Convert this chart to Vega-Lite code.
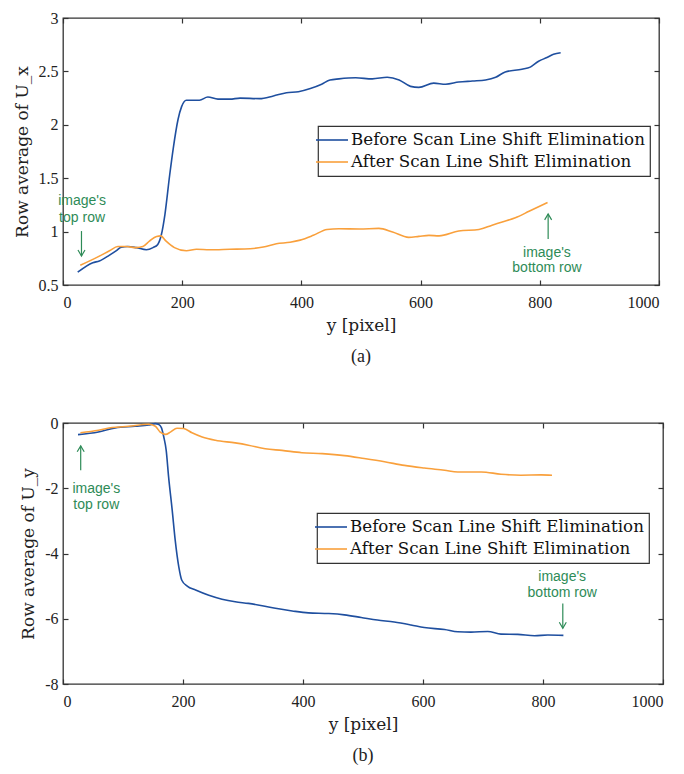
{
  "$schema": "https://vega.github.io/schema/vega-lite/v6.json",
  "background": "white",
  "padding": {"left": 12, "top": 9, "right": 5, "bottom": 5},
  "spacing": 47,
  "align": "none",
  "resolve": {"scale": {"color": "independent"}, "legend": {"color": "independent"}},
  "config": {
    "font": "Liberation Serif",
    "view": {"stroke": "#333", "strokeWidth": 1.3},
    "axis": {"grid": false, "domain": false, "tickSize": -5, "tickColor": "#333", "tickWidth": 1.2, "labelFont": "Liberation Serif", "labelFontSize": 16, "labelColor": "#222", "titleFont": "DejaVu Serif", "titleFontSize": 17, "titleFontWeight": "normal", "titleColor": "#222"},
    "axisX": {"labelPadding": 14, "titlePadding": 7},
    "axisY": {"labelPadding": 10, "titlePadding": 7},
    "legend": {"strokeColor": "#333", "fillColor": "white", "strokeWidth": 1.2, "padding": 5, "symbolType": "M-2,0H2", "symbolSize": 256, "symbolStrokeWidth": 1.6, "labelFont": "DejaVu Serif", "labelFontSize": 16.7, "labelColor": "#111", "labelLimit": 500, "labelOffset": 10, "rowPadding": 4},
    "title": {"font": "Liberation Serif", "fontSize": 18, "fontWeight": "normal", "color": "#222"}
  },
  "datasets": {
    "ux": [
      {"series": "Before Scan Line Shift Elimination", "pos": 24.7, "avg": 0.62},
      {"series": "Before Scan Line Shift Elimination", "pos": 50, "avg": 0.709},
      {"series": "Before Scan Line Shift Elimination", "pos": 61, "avg": 0.725},
      {"series": "Before Scan Line Shift Elimination", "pos": 78, "avg": 0.78},
      {"series": "Before Scan Line Shift Elimination", "pos": 89, "avg": 0.82},
      {"series": "Before Scan Line Shift Elimination", "pos": 98, "avg": 0.855},
      {"series": "Before Scan Line Shift Elimination", "pos": 109, "avg": 0.86},
      {"series": "Before Scan Line Shift Elimination", "pos": 123, "avg": 0.85},
      {"series": "Before Scan Line Shift Elimination", "pos": 140, "avg": 0.83},
      {"series": "Before Scan Line Shift Elimination", "pos": 151, "avg": 0.85},
      {"series": "Before Scan Line Shift Elimination", "pos": 159, "avg": 0.88},
      {"series": "Before Scan Line Shift Elimination", "pos": 165, "avg": 0.97},
      {"series": "Before Scan Line Shift Elimination", "pos": 171, "avg": 1.16},
      {"series": "Before Scan Line Shift Elimination", "pos": 179, "avg": 1.53},
      {"series": "Before Scan Line Shift Elimination", "pos": 185, "avg": 1.78},
      {"series": "Before Scan Line Shift Elimination", "pos": 193, "avg": 2.05},
      {"series": "Before Scan Line Shift Elimination", "pos": 199, "avg": 2.17},
      {"series": "Before Scan Line Shift Elimination", "pos": 207, "avg": 2.23},
      {"series": "Before Scan Line Shift Elimination", "pos": 218, "avg": 2.23},
      {"series": "Before Scan Line Shift Elimination", "pos": 229, "avg": 2.23},
      {"series": "Before Scan Line Shift Elimination", "pos": 243, "avg": 2.26},
      {"series": "Before Scan Line Shift Elimination", "pos": 260, "avg": 2.24},
      {"series": "Before Scan Line Shift Elimination", "pos": 280, "avg": 2.24},
      {"series": "Before Scan Line Shift Elimination", "pos": 297, "avg": 2.25},
      {"series": "Before Scan Line Shift Elimination", "pos": 330, "avg": 2.245},
      {"series": "Before Scan Line Shift Elimination", "pos": 353, "avg": 2.27},
      {"series": "Before Scan Line Shift Elimination", "pos": 375, "avg": 2.3},
      {"series": "Before Scan Line Shift Elimination", "pos": 395, "avg": 2.31},
      {"series": "Before Scan Line Shift Elimination", "pos": 415, "avg": 2.34},
      {"series": "Before Scan Line Shift Elimination", "pos": 434, "avg": 2.38},
      {"series": "Before Scan Line Shift Elimination", "pos": 448, "avg": 2.42},
      {"series": "Before Scan Line Shift Elimination", "pos": 463, "avg": 2.43},
      {"series": "Before Scan Line Shift Elimination", "pos": 491, "avg": 2.44},
      {"series": "Before Scan Line Shift Elimination", "pos": 519, "avg": 2.43},
      {"series": "Before Scan Line Shift Elimination", "pos": 544, "avg": 2.445},
      {"series": "Before Scan Line Shift Elimination", "pos": 564, "avg": 2.42},
      {"series": "Before Scan Line Shift Elimination", "pos": 583, "avg": 2.36},
      {"series": "Before Scan Line Shift Elimination", "pos": 597, "avg": 2.35},
      {"series": "Before Scan Line Shift Elimination", "pos": 622, "avg": 2.39},
      {"series": "Before Scan Line Shift Elimination", "pos": 642, "avg": 2.38},
      {"series": "Before Scan Line Shift Elimination", "pos": 664, "avg": 2.4},
      {"series": "Before Scan Line Shift Elimination", "pos": 687, "avg": 2.41},
      {"series": "Before Scan Line Shift Elimination", "pos": 709, "avg": 2.42},
      {"series": "Before Scan Line Shift Elimination", "pos": 726, "avg": 2.445},
      {"series": "Before Scan Line Shift Elimination", "pos": 742, "avg": 2.495},
      {"series": "Before Scan Line Shift Elimination", "pos": 770, "avg": 2.52},
      {"series": "Before Scan Line Shift Elimination", "pos": 784, "avg": 2.54},
      {"series": "Before Scan Line Shift Elimination", "pos": 798, "avg": 2.595},
      {"series": "Before Scan Line Shift Elimination", "pos": 812, "avg": 2.63},
      {"series": "Before Scan Line Shift Elimination", "pos": 823, "avg": 2.66},
      {"series": "Before Scan Line Shift Elimination", "pos": 835, "avg": 2.675},
      {"series": "After Scan Line Shift Elimination", "pos": 29, "avg": 0.684},
      {"series": "After Scan Line Shift Elimination", "pos": 56, "avg": 0.756},
      {"series": "After Scan Line Shift Elimination", "pos": 78, "avg": 0.82},
      {"series": "After Scan Line Shift Elimination", "pos": 92, "avg": 0.86},
      {"series": "After Scan Line Shift Elimination", "pos": 106, "avg": 0.86},
      {"series": "After Scan Line Shift Elimination", "pos": 123, "avg": 0.85},
      {"series": "After Scan Line Shift Elimination", "pos": 134, "avg": 0.86},
      {"series": "After Scan Line Shift Elimination", "pos": 145, "avg": 0.91},
      {"series": "After Scan Line Shift Elimination", "pos": 157, "avg": 0.955},
      {"series": "After Scan Line Shift Elimination", "pos": 164, "avg": 0.96},
      {"series": "After Scan Line Shift Elimination", "pos": 173, "avg": 0.91},
      {"series": "After Scan Line Shift Elimination", "pos": 187, "avg": 0.85},
      {"series": "After Scan Line Shift Elimination", "pos": 207, "avg": 0.82},
      {"series": "After Scan Line Shift Elimination", "pos": 224, "avg": 0.835},
      {"series": "After Scan Line Shift Elimination", "pos": 246, "avg": 0.83},
      {"series": "After Scan Line Shift Elimination", "pos": 280, "avg": 0.835},
      {"series": "After Scan Line Shift Elimination", "pos": 314, "avg": 0.84},
      {"series": "After Scan Line Shift Elimination", "pos": 336, "avg": 0.855},
      {"series": "After Scan Line Shift Elimination", "pos": 358, "avg": 0.887},
      {"series": "After Scan Line Shift Elimination", "pos": 381, "avg": 0.9},
      {"series": "After Scan Line Shift Elimination", "pos": 398, "avg": 0.92},
      {"series": "After Scan Line Shift Elimination", "pos": 420, "avg": 0.965},
      {"series": "After Scan Line Shift Elimination", "pos": 443, "avg": 1.02},
      {"series": "After Scan Line Shift Elimination", "pos": 463, "avg": 1.027},
      {"series": "After Scan Line Shift Elimination", "pos": 497, "avg": 1.024},
      {"series": "After Scan Line Shift Elimination", "pos": 530, "avg": 1.03},
      {"series": "After Scan Line Shift Elimination", "pos": 553, "avg": 0.996},
      {"series": "After Scan Line Shift Elimination", "pos": 580, "avg": 0.946},
      {"series": "After Scan Line Shift Elimination", "pos": 597, "avg": 0.955},
      {"series": "After Scan Line Shift Elimination", "pos": 614, "avg": 0.965},
      {"series": "After Scan Line Shift Elimination", "pos": 631, "avg": 0.96},
      {"series": "After Scan Line Shift Elimination", "pos": 664, "avg": 1.005},
      {"series": "After Scan Line Shift Elimination", "pos": 698, "avg": 1.02},
      {"series": "After Scan Line Shift Elimination", "pos": 720, "avg": 1.06},
      {"series": "After Scan Line Shift Elimination", "pos": 737, "avg": 1.09},
      {"series": "After Scan Line Shift Elimination", "pos": 759, "avg": 1.13},
      {"series": "After Scan Line Shift Elimination", "pos": 782, "avg": 1.19},
      {"series": "After Scan Line Shift Elimination", "pos": 813, "avg": 1.273}
    ],
    "uy": [
      {"series": "Before Scan Line Shift Elimination", "pos": 25, "avg": -0.357},
      {"series": "Before Scan Line Shift Elimination", "pos": 59, "avg": -0.276},
      {"series": "Before Scan Line Shift Elimination", "pos": 87, "avg": -0.15},
      {"series": "Before Scan Line Shift Elimination", "pos": 120, "avg": -0.1},
      {"series": "Before Scan Line Shift Elimination", "pos": 143, "avg": -0.06},
      {"series": "Before Scan Line Shift Elimination", "pos": 154, "avg": -0.02},
      {"series": "Before Scan Line Shift Elimination", "pos": 159, "avg": -0.04},
      {"series": "Before Scan Line Shift Elimination", "pos": 164, "avg": -0.14},
      {"series": "Before Scan Line Shift Elimination", "pos": 168, "avg": -0.43},
      {"series": "Before Scan Line Shift Elimination", "pos": 172, "avg": -0.84},
      {"series": "Before Scan Line Shift Elimination", "pos": 176, "avg": -1.65},
      {"series": "Before Scan Line Shift Elimination", "pos": 182, "avg": -2.67},
      {"series": "Before Scan Line Shift Elimination", "pos": 187, "avg": -3.59},
      {"series": "Before Scan Line Shift Elimination", "pos": 193, "avg": -4.41},
      {"series": "Before Scan Line Shift Elimination", "pos": 198, "avg": -4.82},
      {"series": "Before Scan Line Shift Elimination", "pos": 207, "avg": -5.0},
      {"series": "Before Scan Line Shift Elimination", "pos": 221, "avg": -5.12},
      {"series": "Before Scan Line Shift Elimination", "pos": 243, "avg": -5.28},
      {"series": "Before Scan Line Shift Elimination", "pos": 265, "avg": -5.4},
      {"series": "Before Scan Line Shift Elimination", "pos": 287, "avg": -5.48},
      {"series": "Before Scan Line Shift Elimination", "pos": 309, "avg": -5.53},
      {"series": "Before Scan Line Shift Elimination", "pos": 332, "avg": -5.6},
      {"series": "Before Scan Line Shift Elimination", "pos": 354, "avg": -5.68},
      {"series": "Before Scan Line Shift Elimination", "pos": 382, "avg": -5.76},
      {"series": "Before Scan Line Shift Elimination", "pos": 409, "avg": -5.82},
      {"series": "Before Scan Line Shift Elimination", "pos": 443, "avg": -5.84},
      {"series": "Before Scan Line Shift Elimination", "pos": 469, "avg": -5.88},
      {"series": "Before Scan Line Shift Elimination", "pos": 497, "avg": -5.96},
      {"series": "Before Scan Line Shift Elimination", "pos": 524, "avg": -6.04},
      {"series": "Before Scan Line Shift Elimination", "pos": 552, "avg": -6.1},
      {"series": "Before Scan Line Shift Elimination", "pos": 580, "avg": -6.19},
      {"series": "Before Scan Line Shift Elimination", "pos": 602, "avg": -6.27},
      {"series": "Before Scan Line Shift Elimination", "pos": 636, "avg": -6.33},
      {"series": "Before Scan Line Shift Elimination", "pos": 658, "avg": -6.4},
      {"series": "Before Scan Line Shift Elimination", "pos": 680, "avg": -6.41},
      {"series": "Before Scan Line Shift Elimination", "pos": 708, "avg": -6.39},
      {"series": "Before Scan Line Shift Elimination", "pos": 730, "avg": -6.47},
      {"series": "Before Scan Line Shift Elimination", "pos": 758, "avg": -6.48},
      {"series": "Before Scan Line Shift Elimination", "pos": 786, "avg": -6.52},
      {"series": "Before Scan Line Shift Elimination", "pos": 808, "avg": -6.5},
      {"series": "Before Scan Line Shift Elimination", "pos": 834, "avg": -6.51},
      {"series": "After Scan Line Shift Elimination", "pos": 29, "avg": -0.3},
      {"series": "After Scan Line Shift Elimination", "pos": 59, "avg": -0.22},
      {"series": "After Scan Line Shift Elimination", "pos": 82, "avg": -0.14},
      {"series": "After Scan Line Shift Elimination", "pos": 109, "avg": -0.1},
      {"series": "After Scan Line Shift Elimination", "pos": 143, "avg": -0.04},
      {"series": "After Scan Line Shift Elimination", "pos": 154, "avg": -0.1},
      {"series": "After Scan Line Shift Elimination", "pos": 162, "avg": -0.28},
      {"series": "After Scan Line Shift Elimination", "pos": 171, "avg": -0.35},
      {"series": "After Scan Line Shift Elimination", "pos": 179, "avg": -0.28},
      {"series": "After Scan Line Shift Elimination", "pos": 190, "avg": -0.16},
      {"series": "After Scan Line Shift Elimination", "pos": 201, "avg": -0.17},
      {"series": "After Scan Line Shift Elimination", "pos": 215, "avg": -0.3},
      {"series": "After Scan Line Shift Elimination", "pos": 232, "avg": -0.43},
      {"series": "After Scan Line Shift Elimination", "pos": 254, "avg": -0.53},
      {"series": "After Scan Line Shift Elimination", "pos": 287, "avg": -0.61},
      {"series": "After Scan Line Shift Elimination", "pos": 309, "avg": -0.68},
      {"series": "After Scan Line Shift Elimination", "pos": 337, "avg": -0.79},
      {"series": "After Scan Line Shift Elimination", "pos": 365, "avg": -0.84},
      {"series": "After Scan Line Shift Elimination", "pos": 398, "avg": -0.91},
      {"series": "After Scan Line Shift Elimination", "pos": 432, "avg": -0.94},
      {"series": "After Scan Line Shift Elimination", "pos": 469, "avg": -1.0},
      {"series": "After Scan Line Shift Elimination", "pos": 502, "avg": -1.09},
      {"series": "After Scan Line Shift Elimination", "pos": 536, "avg": -1.19},
      {"series": "After Scan Line Shift Elimination", "pos": 569, "avg": -1.3},
      {"series": "After Scan Line Shift Elimination", "pos": 602, "avg": -1.38},
      {"series": "After Scan Line Shift Elimination", "pos": 636, "avg": -1.45},
      {"series": "After Scan Line Shift Elimination", "pos": 658, "avg": -1.5},
      {"series": "After Scan Line Shift Elimination", "pos": 697, "avg": -1.5},
      {"series": "After Scan Line Shift Elimination", "pos": 730, "avg": -1.57},
      {"series": "After Scan Line Shift Elimination", "pos": 763, "avg": -1.6},
      {"series": "After Scan Line Shift Elimination", "pos": 797, "avg": -1.59},
      {"series": "After Scan Line Shift Elimination", "pos": 815, "avg": -1.6}
    ],
    "notes_a": [
      {"pos": 32, "avg": 1.287, "text": "image's"},
      {"pos": 32, "avg": 1.127, "text": "top row"},
      {"pos": 812, "avg": 0.8, "text": "image's"},
      {"pos": 812, "avg": 0.659, "text": "bottom row"}
    ],
    "arrows_a": [
      {"pos": 31, "tail": 1.005, "tip": 0.772, "dir": "down"},
      {"pos": 814, "tail": 0.931, "tip": 1.165, "dir": "up"}
    ],
    "notes_b": [
      {"pos": 55.5, "avg": -2.03, "text": "image's"},
      {"pos": 55.5, "avg": -2.5, "text": "top row"},
      {"pos": 832, "avg": -4.71, "text": "image's"},
      {"pos": 832, "avg": -5.22, "text": "bottom row"}
    ],
    "arrows_b": [
      {"pos": 29.5, "tail": -1.45, "tip": -0.7, "dir": "up"},
      {"pos": 833, "tail": -5.53, "tip": -6.29, "dir": "down"}
    ]
  },
  "vconcat": [
    {
      "width": 596,
      "height": 267,
      "title": {"text": "(a)", "orient": "bottom", "anchor": "middle", "offset": 15},
      "resolve": {"axis": {"x": "independent", "y": "independent"}},
      "layer": [
        {
          "data": {"name": "ux"},
          "mark": {"type": "line", "strokeWidth": 1.6, "interpolate": "monotone"},
          "encoding": {
            "x": {"field": "pos", "type": "quantitative", "scale": {"domain": [0, 1000], "nice": false}, "axis": {"title": "y [pixel]", "values": [0, 200, 400, 600, 800, 1000], "labelExpr": "'' + datum.value"}},
            "y": {"field": "avg", "type": "quantitative", "scale": {"domain": [0.5, 3], "nice": false, "zero": false}, "axis": {"title": "Row average of U_x", "values": [0.5, 1, 1.5, 2, 2.5, 3], "labelExpr": "'' + datum.value"}},
            "color": {"field": "series", "type": "nominal", "scale": {"domain": ["Before Scan Line Shift Elimination", "After Scan Line Shift Elimination"], "range": ["#1f4f9f", "#f9a03c"]}, "legend": {"title": null, "orient": "none", "legendX": 255, "legendY": 108}}
          }
        },
        {
          "data": {"name": "notes_a"},
          "mark": {"type": "text", "font": "Liberation Sans", "fontSize": 14, "color": "#2e8b57"},
          "encoding": {
            "x": {"field": "pos", "type": "quantitative", "scale": {"domain": [0, 1000], "nice": false}, "axis": {"orient": "top", "labels": false, "title": null, "values": [0, 200, 400, 600, 800, 1000]}},
            "y": {"field": "avg", "type": "quantitative", "scale": {"domain": [0.5, 3], "nice": false, "zero": false}, "axis": {"orient": "right", "labels": false, "title": null, "values": [0.5, 1, 1.5, 2, 2.5, 3]}},
            "text": {"field": "text", "type": "nominal"}
          }
        },
        {
          "data": {"name": "arrows_a"},
          "mark": {"type": "rule", "color": "#2e8b57", "strokeWidth": 1.2},
          "encoding": {
            "x": {"field": "pos", "type": "quantitative", "axis": null},
            "y": {"field": "tail", "type": "quantitative", "axis": null},
            "y2": {"field": "tip"}
          }
        },
        {
          "data": {"name": "arrows_a"},
          "transform": [{"filter": "datum.dir == 'down'"}],
          "mark": {"type": "point", "shape": "M-1,-1.7L0,0L1,-1.7", "filled": false, "color": "#2e8b57", "strokeWidth": 1.2, "size": 49, "opacity": 1},
          "encoding": {
            "x": {"field": "pos", "type": "quantitative", "axis": null},
            "y": {"field": "tip", "type": "quantitative", "axis": null}
          }
        },
        {
          "data": {"name": "arrows_a"},
          "transform": [{"filter": "datum.dir == 'up'"}],
          "mark": {"type": "point", "shape": "M-1,1.7L0,0L1,1.7", "filled": false, "color": "#2e8b57", "strokeWidth": 1.2, "size": 49, "opacity": 1},
          "encoding": {
            "x": {"field": "pos", "type": "quantitative", "axis": null},
            "y": {"field": "tip", "type": "quantitative", "axis": null}
          }
        }
      ]
    },
    {
      "width": 600,
      "height": 261,
      "title": {"text": "(b)", "orient": "bottom", "anchor": "middle", "offset": 15},
      "resolve": {"axis": {"x": "independent", "y": "independent"}},
      "layer": [
        {
          "data": {"name": "uy"},
          "mark": {"type": "line", "strokeWidth": 1.6, "interpolate": "monotone"},
          "encoding": {
            "x": {"field": "pos", "type": "quantitative", "scale": {"domain": [0, 1000], "nice": false}, "axis": {"title": "y [pixel]", "values": [0, 200, 400, 600, 800, 1000], "labelExpr": "'' + datum.value"}},
            "y": {"field": "avg", "type": "quantitative", "scale": {"domain": [-8, 0], "nice": false, "zero": false}, "axis": {"title": "Row average of U_y", "values": [-8, -6, -4, -2, 0], "labelExpr": "'' + datum.value"}},
            "color": {"field": "series", "type": "nominal", "scale": {"domain": ["Before Scan Line Shift Elimination", "After Scan Line Shift Elimination"], "range": ["#1f4f9f", "#f9a03c"]}, "legend": {"title": null, "orient": "none", "legendX": 254, "legendY": 90}}
          }
        },
        {
          "data": {"name": "notes_b"},
          "mark": {"type": "text", "font": "Liberation Sans", "fontSize": 14, "color": "#2e8b57"},
          "encoding": {
            "x": {"field": "pos", "type": "quantitative", "scale": {"domain": [0, 1000], "nice": false}, "axis": {"orient": "top", "labels": false, "title": null, "values": [0, 200, 400, 600, 800, 1000]}},
            "y": {"field": "avg", "type": "quantitative", "scale": {"domain": [-8, 0], "nice": false, "zero": false}, "axis": {"orient": "right", "labels": false, "title": null, "values": [-8, -6, -4, -2, 0]}},
            "text": {"field": "text", "type": "nominal"}
          }
        },
        {
          "data": {"name": "arrows_b"},
          "mark": {"type": "rule", "color": "#2e8b57", "strokeWidth": 1.2},
          "encoding": {
            "x": {"field": "pos", "type": "quantitative", "axis": null},
            "y": {"field": "tail", "type": "quantitative", "axis": null},
            "y2": {"field": "tip"}
          }
        },
        {
          "data": {"name": "arrows_b"},
          "transform": [{"filter": "datum.dir == 'down'"}],
          "mark": {"type": "point", "shape": "M-1,-1.7L0,0L1,-1.7", "filled": false, "color": "#2e8b57", "strokeWidth": 1.2, "size": 49, "opacity": 1},
          "encoding": {
            "x": {"field": "pos", "type": "quantitative", "axis": null},
            "y": {"field": "tip", "type": "quantitative", "axis": null}
          }
        },
        {
          "data": {"name": "arrows_b"},
          "transform": [{"filter": "datum.dir == 'up'"}],
          "mark": {"type": "point", "shape": "M-1,1.7L0,0L1,1.7", "filled": false, "color": "#2e8b57", "strokeWidth": 1.2, "size": 49, "opacity": 1},
          "encoding": {
            "x": {"field": "pos", "type": "quantitative", "axis": null},
            "y": {"field": "tip", "type": "quantitative", "axis": null}
          }
        }
      ]
    }
  ]
}
